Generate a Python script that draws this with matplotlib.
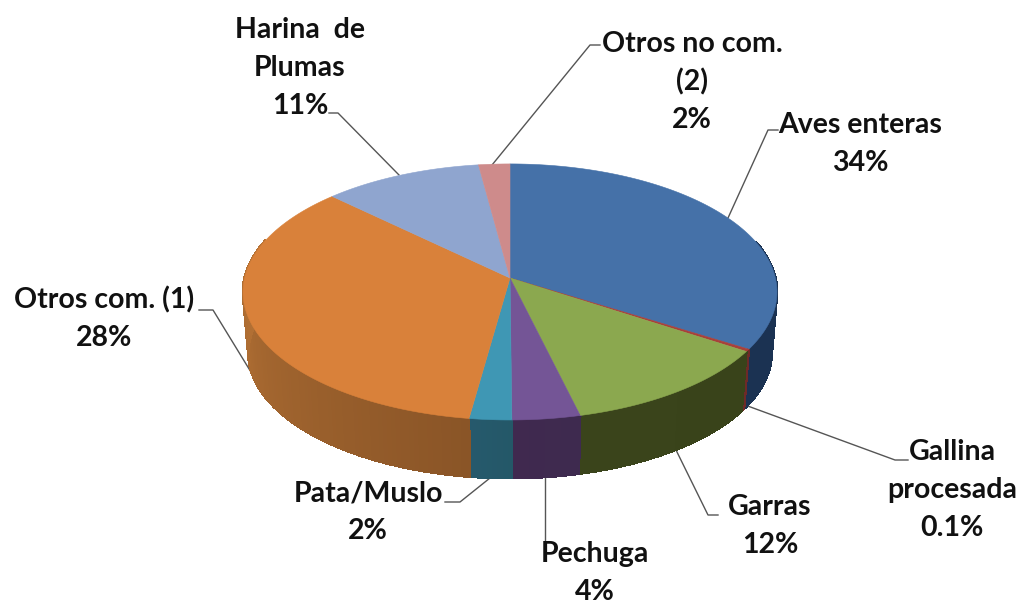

# 3D style pie chart of the poultry products shares
import numpy as np
import matplotlib
matplotlib.use("Agg")
import matplotlib.pyplot as plt
from matplotlib.colors import to_rgb

# slice order is clockwise from the top, sizes as drawn in the picture
categories = ["Aves enteras", "Gallina\nprocesada", "Garras", "Pechuga", "Pata/Muslo",
              "Otros com. (1)", "Harina  de\nPlumas", "Otros no com.\n(2)"]
slice_sizes = [33.9, 0.3, 12.0, 3.7, 2.3, 35.0, 10.7, 2.1]
percent_labels = ["34%", "0.1%", "12%", "4%", "2%", "28%", "11%", "2%"]

top_colors = ["#4571A8", "#A8403A", "#8BA84F", "#745596", "#3F97B4", "#D9813A", "#8FA5CF", "#CE8B8B"]
wall_start = ["#1B3252", "#6E2A28", "#39431A", "#3E2A4F", "#245868", "#8A5527", "#6C7C9B", "#9A6868"]
wall_end = ["#1B3252", "#6E2A28", "#3A441B", "#40294F", "#26596C", "#C47C3A", "#6C7C9B", "#9A6868"]

# label block centre, then the leader line points (pixels of the picture)
label_xy = [(860, 144), (952, 490), (770, 526), (595, 573), (368, 512), (104, 319), (300, 68), (692, 82)]
leaders = [[(778, 130), (768, 130), (728, 218)],
           [(908, 460), (895, 460), (745, 405)],
           [(718, 515), (708, 515), (676, 450)],
           [(545, 478), (545, 540)],
           [(445, 502), (460, 502), (490, 478)],
           [(199, 310), (213, 310), (254, 377)],
           [(329, 113), (338, 113), (399, 175)],
           [(600, 45), (590, 45), (492, 165)]]

# shape of the pie
cx, cy = 510, 278
rx, ry = 265.4, 126.5
k = 0.109        # perspective, the front looks bigger than the back
depth = 61
bottom_scale = 0.98


def project(angle, r=1.0, scale=1.0, dy=0.0):
    # angle in radians clockwise from the top of the disc
    u = r * np.sin(angle)
    v = r * np.cos(angle)
    w = 1 / (1 + k * v)
    return cx + rx * u * w * scale, cy - ry * v * w * scale + dy


fig = plt.figure(figsize=(10.21, 6.04), dpi=100)
ax = fig.add_axes([0, 0, 1, 1])
ax.set_xlim(0, 1021)
ax.set_ylim(604, 0)
ax.axis("off")

fractions = np.array(slice_sizes) / np.sum(slice_sizes)
edges = np.concatenate([[0], np.cumsum(fractions)]) * 2 * np.pi

# side wall first, thin strips so the shading can change along it
for i in range(len(slice_sizes)):
    steps = max(int((edges[i + 1] - edges[i]) * 60), 2)
    t = np.linspace(edges[i], edges[i + 1], steps + 1)
    c0 = np.array(to_rgb(wall_start[i]))
    c1 = np.array(to_rgb(wall_end[i]))
    for j in range(steps):
        if np.cos(t[j]) > 0.3:
            continue  # back part is hidden by the top
        x1, y1 = project(t[j:j + 2])
        x2, y2 = project(t[j:j + 2], scale=bottom_scale, dy=depth)
        col = c0 + (c1 - c0) * j / steps
        ax.fill(np.r_[x1, x2[::-1]], np.r_[y1, y2[::-1]], facecolor=col, edgecolor=col,
                lw=1.2, antialiased=False, zorder=2)

# top of the pie
for i in range(len(slice_sizes)):
    t = np.linspace(edges[i], edges[i + 1], 200)
    x, y = project(t)
    ax.fill(np.r_[cx, x], np.r_[cy, y], color=top_colors[i], lw=0.4, zorder=3)

for pts in leaders:
    px, py = zip(*pts)
    ax.plot(px, py, color="#555555", lw=1, zorder=1)

for i in range(len(categories)):
    ax.text(label_xy[i][0], label_xy[i][1], categories[i] + "\n" + percent_labels[i],
            ha="center", va="center", ma="center", family="Lato", weight="bold",
            fontsize=20.5, color="#111111", linespacing=1.55, zorder=5)

fig.savefig("out.png", dpi=100)
